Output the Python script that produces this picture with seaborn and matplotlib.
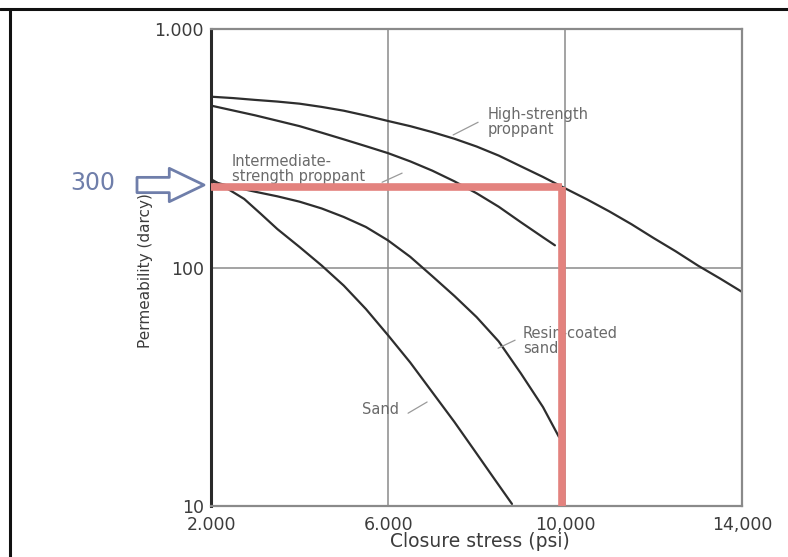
import numpy as np
import pandas as pd
import seaborn as sns
import matplotlib
matplotlib.use("Agg")
from matplotlib import pyplot as plt
from matplotlib.lines import Line2D

# closure stress (psi) and permeability (darcy)
high_psi = [2000, 2500, 3000, 3500, 4000, 4500, 5000, 5500, 6000, 6500, 7000, 7500, 8000,
            8500, 9000, 9500, 10000, 10500, 11000, 11500, 12000, 12500, 13000, 13500, 14000]
high_perm = [521, 514, 505, 497, 487, 472, 455, 434, 412, 392, 370, 347, 322,
             295, 266, 240, 215, 193, 172, 152, 133, 117, 102, 90, 79]

inter_psi = [2000, 2500, 3000, 3500, 4000, 4500, 5000, 5500, 6000, 6500, 7000, 7500, 8000,
             8500, 9000, 9500, 9770]
inter_perm = [478, 456, 435, 413, 392, 368, 345, 323, 302, 279, 255, 230, 205,
              180, 155, 134, 124]

resin_psi = [2000, 2500, 3000, 3500, 4000, 4500, 5000, 5500, 6000, 6500, 7000, 7500, 8000,
             8500, 9000, 9500, 9860]
resin_perm = [230, 218, 208, 199, 189, 177, 163, 148, 130, 111, 92, 76, 62,
              49, 36, 26, 19.5]

sand_psi = [2000, 2375, 2750, 3125, 3500, 4000, 4500, 5000, 5500, 6000, 6500, 7000, 7500,
            8000, 8400, 8800]
sand_perm = [235, 214, 194, 168, 145, 122, 102, 84, 67, 52, 40, 30, 22.5,
             16.6, 13, 10.2]

# hand-drawn red reading lines
read_psi = 9930
read_perm = 218
read_label = "300"

x_ticks = [2000, 6000, 10000, 14000]
x_labels = ["2.000", "6.000", "10,000", "14,000"]
y_ticks = [10, 100, 1000]
y_labels = ["10", "100", "1.000"]

curves = pd.concat([
    pd.DataFrame({"psi": high_psi, "perm": high_perm, "kind": "high"}),
    pd.DataFrame({"psi": inter_psi, "perm": inter_perm, "kind": "inter"}),
    pd.DataFrame({"psi": resin_psi, "perm": resin_perm, "kind": "resin"}),
    pd.DataFrame({"psi": sand_psi, "perm": sand_perm, "kind": "sand"}),
])

sns.set_style("white")
plt.rcParams["font.family"] = ["DejaVu Sans"]

fig = plt.figure(figsize=(7.88, 5.57), dpi=100)
ax = fig.add_axes([0.2678, 0.0916, 0.674, 0.856])

line_col = "#2e2e2e"
text_col = "#6a6a6a"
grid_col = "#8a8a8a"

for kind, d in curves.groupby("kind", sort=False):
    sns.lineplot(data=d, x="psi", y="perm", ax=ax, color=line_col,
                 lw=1.6, sort=False, estimator=None)

ax.set_yscale("log")
ax.set_xlim(2000, 14000)
ax.set_ylim(10, 1000)

ax.set_xticks(x_ticks)
ax.set_xticklabels(x_labels)
ax.set_yticks(y_ticks)
ax.set_yticklabels(y_labels)
ax.yaxis.set_minor_locator(matplotlib.ticker.NullLocator())
ax.tick_params(length=0, labelsize=12.5, colors="#3c3c3c")
ax.tick_params(axis="x", pad=7)
ax.tick_params(axis="y", pad=5)

for xv in [6000, 10000]:
    ax.axvline(xv, color=grid_col, lw=1.1, zorder=0)
ax.axhline(100, color=grid_col, lw=1.1, zorder=0)

for side in ["top", "right", "bottom"]:
    ax.spines[side].set_color(grid_col)
    ax.spines[side].set_linewidth(1.6)
ax.spines["left"].set_color("#2a2a2a")
ax.spines["left"].set_linewidth(2.2)

ax.set_xlabel("Closure stress (psi)", fontsize=13.5, color="#3c3c3c")
ax.set_ylabel("Permeability (darcy)", fontsize=11, color="#3c3c3c")
ax.xaxis.set_label_coords(0.507, -0.054)
ax.yaxis.set_label_coords(-0.109, 0.493)

# curve labels with leader lines
labels = [
    ("High-strength\nproppant", 8260, 409, (7470, 360), (8034, 407)),
    ("Intermediate-\nstrength proppant", 2475, 258, (5865, 228), (6317, 249)),
    ("Resin-coated\nsand", 9051, 49, (8486, 45.9), (8870, 49.6)),
    ("Sand", 5413, 25.3, (6452, 24.5), (6882, 27.3)),
]
for txt, tx, ty, p0, p1 in labels:
    ax.text(tx, ty, txt, fontsize=10.5, color=text_col, ha="left", va="center",
            linespacing=1.0, zorder=2)
    ax.plot([p0[0], p1[0]], [p0[1], p1[1]], color="#9a9a9a", lw=0.9, zorder=2)

# red reading lines drawn on top
red = "#e3827e"
ax.plot([2000, read_psi], [read_perm, read_perm], color=red, lw=5.5,
        solid_capstyle="butt", zorder=5, clip_on=False)
ax.plot([read_psi, read_psi], [read_perm, 10], color=red, lw=5.5,
        solid_capstyle="butt", zorder=5, clip_on=False)

# hollow arrow and value annotation
blue = "#6f7eaa"
fig.text(93 / 788, 1 - 183 / 557, read_label, fontsize=17, color=blue,
         ha="center", va="center")
ax.annotate("", xy=(204, 557 - 185), xytext=(137, 557 - 185),
            xycoords="figure pixels", textcoords="figure pixels",
            arrowprops=dict(arrowstyle="simple,head_length=1.25,head_width=1.2,tail_width=0.55",
                            fc="white", ec=blue, lw=2, mutation_scale=20,
                            shrinkA=0, shrinkB=0))

# photo frame edges
fig.add_artist(Line2D([0, 1], [1 - 9 / 557, 1 - 9 / 557], color="#111111", lw=2.2))
fig.add_artist(Line2D([10 / 788, 10 / 788], [0, 1 - 9 / 557], color="#111111", lw=2.2))

fig.savefig("out.png", dpi=100)
